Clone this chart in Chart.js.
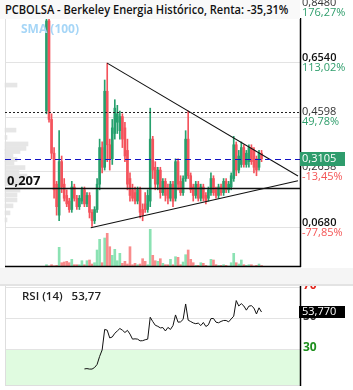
<!DOCTYPE html>
<html><head><meta charset="utf-8">
<script src="https://cdn.jsdelivr.net/npm/chart.js@4.4.1/dist/chart.umd.min.js"></script>
<style>
html,body{margin:0;padding:0;background:#fff;width:353px;height:390px;overflow:hidden;}
#wrap{position:relative;width:353px;height:390px;}
canvas{position:absolute;left:0;}
#prof{top:0;z-index:1}
#main{top:0;z-index:2}
#rsi{top:286px;z-index:2}
#band{position:absolute;left:0;top:268px;width:353px;height:16px;background:#f5f5f5;border-bottom:2px solid #e3e3e3;}
#title{position:absolute;left:0;top:0;width:300px;height:19px;background:#f9f9f9;z-index:3;}
#title span{position:absolute;left:5px;top:0;font:600 12.3px "Open Sans",sans-serif;color:#111;line-height:19px;white-space:nowrap;transform:scaleX(0.9);transform-origin:0 50%;}
#sma{position:absolute;left:21px;top:20px;z-index:3;font:700 12px "Open Sans",sans-serif;color:#a6d6f7;}
#rsilab{position:absolute;left:22px;top:288px;z-index:3;font:600 11.5px "Open Sans",sans-serif;color:#222;white-space:pre;}
</style></head>
<body><div id="wrap">
<div id="title"><span>PCBOLSA - Berkeley Energia Histórico, Renta: -35,31%</span></div>
<div id="sma">SMA (100)</div>
<canvas id="prof" width="60" height="268"></canvas>
<canvas id="main" width="353" height="268"></canvas>
<div id="band"></div>
<canvas id="rsi" width="353" height="100"></canvas>
<div id="rsilab">RSI (14)   53,77</div>
</div>
<script>
// ---------- data ----------
const opens  = [.48,.80,.45,.33,.22,.11,.30,.22,.18,.16,.13,.21,.17,.14,.16,.20,.15,.18,.12,.09,.13,.22,.35,.28,.55,.36,.31,.40,.44,.41,.46,.42,.34,.24,.20,.19,.16,.20,.13,.15,.13,.16,.38,.28,.22,.27,.19,.23,.20,.17,.22,.17,.30,.23,.19,.24,.38,.25,.21,.18,.22,.17,.21,.18,.17,.19,.24,.20,.18,.21,.19,.23,.20,.21,.24,.36,.27,.29,.35,.29,.30,.35,.34,.31,.28,.33];
const closes = [.80,.45,.33,.20,.14,.30,.21,.17,.15,.13,.21,.17,.14,.17,.20,.15,.18,.12,.09,.13,.22,.35,.28,.55,.36,.31,.42,.49,.47,.46,.38,.32,.22,.18,.17,.16,.20,.12,.11,.13,.18,.38,.27,.22,.27,.19,.23,.18,.17,.22,.16,.30,.22,.19,.24,.38,.25,.20,.18,.22,.17,.21,.17,.16,.20,.24,.19,.18,.21,.19,.23,.20,.22,.25,.36,.27,.32,.35,.29,.33,.35,.30,.28,.27,.33,.3105];
const highs  = [.83,.81,.47,.35,.23,.41,.32,.24,.20,.17,.23,.22,.18,.18,.21,.21,.19,.19,.13,.14,.24,.38,.37,.59,.65,.38,.45,.52,.50,.48,.47,.44,.38,.26,.22,.21,.21,.21,.15,.19,.20,.49,.39,.30,.28,.28,.24,.24,.22,.23,.23,.31,.31,.25,.25,.41,.48,.26,.22,.23,.23,.22,.22,.19,.21,.26,.25,.21,.22,.22,.24,.24,.23,.26,.39,.37,.34,.37,.36,.34,.36,.36,.35,.32,.34,.34];
const lows   = [.47,.44,.31,.17,.11,.09,.19,.16,.14,.12,.12,.16,.13,.13,.15,.14,.14,.10,.07,.08,.12,.20,.26,.27,.30,.27,.29,.38,.40,.38,.35,.30,.20,.16,.16,.15,.15,.10,.09,.12,.12,.14,.24,.20,.20,.17,.18,.16,.15,.16,.14,.16,.20,.18,.18,.23,.24,.19,.16,.17,.16,.16,.16,.15,.16,.18,.18,.17,.17,.18,.18,.19,.19,.20,.23,.25,.26,.28,.28,.28,.28,.29,.26,.25,.27,.30];
const volumes = [2.3,1.0,2.3,1.2,1.7,19.7,4.3,5.0,5.7,4.3,7.7,2.3,2.3,2.3,6.3,2.3,6.3,7.0,3.0,4.3,17.0,27.7,4.3,29.0,33.7,20.3,11.7,17.7,6.3,13.7,3.7,5.7,3.0,20.3,2.3,3.7,2.3,3.0,8.3,5.7,2.3,37.7,11.7,6.3,5.7,8.3,3.7,2.3,2.3,7.7,2.3,10.3,9.7,2.3,5.0,12.3,17.0,7.7,4.3,1.7,1.7,4.3,3.7,1.7,1.0,7.7,7.0,2.3,1.7,1.7,2.3,1.7,1.0,4.3,13.7,4.3,3.0,7.0,2.3,1.7,2.3,2.3,1.0,1.7,3.0,1.5];
const rsiStart = 15;
const rsiValues = [16.9,17.1,16.8,16.8,17.8,19.8,25,29.2,42.5,42,37,37.6,40,41.5,43.1,42,40.5,41.9,39.5,36.2,36.4,36.2,35.1,35.2,35.8,36.2,50.4,47.6,45.2,44.5,43.5,43.7,41.5,43.8,42.5,45,51.9,47.2,47.4,49,59,48.5,47.6,46.7,46.2,46.6,45,47,44.4,45.5,49.5,49.6,47.2,46.8,47.7,48.3,48.3,47.4,49.3,51.1,61.2,57.7,59.2,57.7,55,57.6,57.9,56.3,52.5,56.5,53.77];
const priceTicks = [0.848,0.654,0.4598,0.2658,0.068];
const priceTickLabels = ['0,8480','0,6540','0,4598','0,2658','0,0680'];
const pctLabels = ['176,27%','113,02%','49,78%','-13,45%','-77,85%'];
const lastPrice = 0.3105, lastPriceLabel = '0,3105';
const resistLevel = 0.4775;
const supportLevel = 0.207, supportLabel = '0,207';
const trendUpper = [{x:24,y:0.65},{x:99.4,y:0.249}];
const trendLower = [{x:17.5,y:0.0654},{x:99.4,y:0.2324}];
const profilePrices = [0.572,0.412,0.386,0.363,0.347,0.336,0.324,0.308,0.295,0.279,0.263,0.249,0.235,0.221,0.199,0.182,0.164,0.143,0.118,0.093];
const profileVolumes = [12,11,2,23,21,15,8,12,9,20,14,22,19,17,15,12,12,8,5,2];
const rsiTicks = [70,50,30];
const rsiTickLabels = ['70','50','30'];
const rsiLast = 53.77, rsiLastLabel = '53,770';

// ---------- layout ----------
const X_MIN = -16.4, X_MAX = 100.2;
const Y_MIN = -0.0742, Y_MAX = 0.8742;
const VOL_AXIS_MAX = 267;
const GREEN = '#26a06d', RED = '#f4535c', VGREEN = '#8be2b3', VRED = '#f98c8c';
const up = i => closes[i] >= opens[i];
const idx = opens.map((_, i) => i);

const mainDecor = {
  id: 'mainDecor',
  beforeDatasetsDraw(chart) {
    const {ctx, chartArea: a, scales: {y}} = chart;
    ctx.save();
    ctx.strokeStyle = '#e3e3e3'; ctx.lineWidth = 1;
    priceTicks.forEach(v => {
      const py = Math.round(y.getPixelForValue(v)) + 0.5;
      ctx.beginPath(); ctx.moveTo(a.left, py); ctx.lineTo(a.right, py); ctx.stroke();
    });
    ctx.strokeStyle = '#e0e0e0';
    ctx.beginPath(); ctx.moveTo(a.left + 0.5, a.top); ctx.lineTo(a.left + 0.5, a.bottom); ctx.stroke();
    ctx.restore();
  },
  afterDatasetsDraw(chart) {
    const {ctx, chartArea: a, scales: {y}} = chart;
    ctx.save();
    const hline = (v, color, dash, w) => {
      const py = Math.round(y.getPixelForValue(v)) + 0.5;
      ctx.strokeStyle = color; ctx.lineWidth = w; ctx.setLineDash(dash);
      ctx.beginPath(); ctx.moveTo(a.left, py); ctx.lineTo(a.right, py); ctx.stroke();
      ctx.setLineDash([]);
      return py;
    };
    hline(resistLevel, '#222', [2, 2], 1);
    hline(lastPrice, '#1212c4', [6, 4], 1);
    const sy = hline(supportLevel, '#111', [], 1.5);
    ctx.fillStyle = '#111'; ctx.font = '700 13px "Open Sans", sans-serif';
    ctx.textBaseline = 'bottom'; ctx.textAlign = 'left';
    ctx.fillText(supportLabel, a.left + 2, sy - 1);
    ctx.strokeStyle = '#000'; ctx.lineWidth = 1.5;
    ctx.beginPath(); ctx.moveTo(a.right + 0.5, 18); ctx.lineTo(a.right + 0.5, a.bottom); ctx.stroke();
    ctx.beginPath(); ctx.moveTo(a.left, a.bottom - 0.5); ctx.lineTo(a.right + 1, a.bottom - 0.5); ctx.stroke();
    priceTicks.forEach((v, k) => {
      const py = y.getPixelForValue(v);
      const bold = (k === 1 || k === 4);
      ctx.textBaseline = 'bottom';
      ctx.fillStyle = bold ? '#111' : '#333';
      ctx.font = (bold ? '600 ' : '400 ') + '11px "Open Sans", sans-serif';
      ctx.fillText(priceTickLabels[k], a.right + 2, py + 1);
      ctx.textBaseline = 'top';
      ctx.fillStyle = pctLabels[k].startsWith('-') ? '#f45555' : '#2f9e6c';
      ctx.font = '400 11px "Open Sans", sans-serif';
      ctx.fillText(pctLabels[k], a.right + 2, py);
    });
    const ly = y.getPixelForValue(lastPrice);
    ctx.fillStyle = '#2e9c6c';
    ctx.fillRect(a.right, Math.round(ly) - 7, 45, 14);
    ctx.fillStyle = '#fff'; ctx.textBaseline = 'middle';
    ctx.font = '400 11px "Open Sans", sans-serif';
    ctx.fillText(lastPriceLabel, a.right + 2, ly);
    ctx.restore();
  }
};

new Chart(document.getElementById('main'), {
  type: 'bar',
  data: {
    datasets: [
      { type: 'line', data: trendUpper, borderColor: '#111', borderWidth: 1.1, pointRadius: 0, order: 0, yAxisID: 'y' },
      { type: 'line', data: trendLower, borderColor: '#111', borderWidth: 1.1, pointRadius: 0, order: 0, yAxisID: 'y' },
      { data: idx.map(i => ({x: i, y: [opens[i], closes[i]]})), yAxisID: 'y',
        backgroundColor: idx.map(i => up(i) ? GREEN : RED), barThickness: 2, minBarLength: 1, grouped: false, order: 1 },
      { data: idx.map(i => ({x: i, y: [lows[i], highs[i]]})), yAxisID: 'y',
        backgroundColor: idx.map(i => up(i) ? GREEN : RED), barThickness: 1, grouped: false, order: 2 },
      { data: idx.map(i => ({x: i, y: volumes[i]})), yAxisID: 'yv',
        backgroundColor: idx.map(i => up(i) ? VGREEN : VRED), barThickness: 2, grouped: false, order: 3 }
    ]
  },
  options: {
    responsive: false, animation: false, devicePixelRatio: 1,
    layout: { padding: { left: 5, right: 53, top: 0, bottom: 1 } },
    plugins: { legend: { display: false }, tooltip: { enabled: false } },
    scales: {
      x: { type: 'linear', min: X_MIN, max: X_MAX, display: false, offset: false },
      y: { type: 'linear', min: Y_MIN, max: Y_MAX, display: false },
      yv: { type: 'linear', min: 0, max: VOL_AXIS_MAX, display: false }
    }
  },
  plugins: [mainDecor]
});

new Chart(document.getElementById('prof'), {
  type: 'bar',
  data: { datasets: [{ data: profilePrices.map((p, k) => ({x: profileVolumes[k], y: p})),
    backgroundColor: '#e6e6e6', barThickness: 4, indexAxis: 'y' }] },
  options: {
    indexAxis: 'y', responsive: false, animation: false, devicePixelRatio: 1,
    layout: { padding: { left: 0, right: 0, top: 0, bottom: 1 } },
    plugins: { legend: { display: false }, tooltip: { enabled: false } },
    scales: {
      x: { type: 'linear', min: -5, max: 55, display: false },
      y: { type: 'linear', min: Y_MIN, max: Y_MAX, display: false, offset: false }
    }
  }
});

const rsiDecor = {
  id: 'rsiDecor',
  beforeDatasetsDraw(chart) {
    const {ctx, chartArea: a, scales: {y}} = chart;
    ctx.save();
    const y30 = Math.round(y.getPixelForValue(30));
    ctx.fillStyle = '#e0fbe0';
    ctx.fillRect(a.left, y30, a.right - a.left, a.bottom - y30);
    ctx.strokeStyle = '#e3e3e3'; ctx.lineWidth = 1;
    rsiTicks.forEach(v => {
      const py = Math.round(y.getPixelForValue(v)) + 0.5;
      ctx.beginPath(); ctx.moveTo(a.left, py); ctx.lineTo(a.right, py); ctx.stroke();
    });
    ctx.strokeStyle = '#dedede';
    ctx.beginPath(); ctx.moveTo(a.left + 0.5, 0); ctx.lineTo(a.left + 0.5, a.bottom); ctx.stroke();
    ctx.beginPath(); ctx.moveTo(a.left, a.bottom + 0.5); ctx.lineTo(a.right, a.bottom + 0.5); ctx.stroke();
    ctx.restore();
  },
  afterDatasetsDraw(chart) {
    const {ctx, chartArea: a, scales: {y}} = chart;
    ctx.save();
    ctx.strokeStyle = '#000'; ctx.lineWidth = 1.5;
    ctx.beginPath(); ctx.moveTo(a.right + 0.5, 0); ctx.lineTo(a.right + 0.5, a.bottom + 1); ctx.stroke();
    ctx.textBaseline = 'middle'; ctx.textAlign = 'left';
    const cols = ['#e3241c', '#333', '#1d8f1d'];
    rsiTicks.forEach((v, k) => {
      ctx.fillStyle = cols[k];
      ctx.font = '700 12px "Open Sans", sans-serif';
      ctx.fillText(rsiTickLabels[k], a.right + 3, y.getPixelForValue(v) - 1);
    });
    const ly = y.getPixelForValue(rsiLast);
    ctx.fillStyle = '#000';
    ctx.fillRect(a.right - 1, Math.round(ly) - 6, 46, 12);
    ctx.fillStyle = '#fff'; ctx.font = '400 11px "Open Sans", sans-serif';
    ctx.fillText(rsiLastLabel, a.right + 2, ly);
    ctx.restore();
  }
};

new Chart(document.getElementById('rsi'), {
  type: 'line',
  data: { datasets: [{ data: rsiValues.map((v, k) => ({x: rsiStart + k, y: v})),
    borderColor: '#111', borderWidth: 1, pointRadius: 0, tension: 0 }] },
  options: {
    responsive: false, animation: false, devicePixelRatio: 1,
    layout: { padding: { left: 5, right: 53, top: 0, bottom: 1 } },
    plugins: { legend: { display: false }, tooltip: { enabled: false } },
    scales: {
      x: { type: 'linear', min: X_MIN, max: X_MAX, display: false },
      y: { type: 'linear', min: 6.47, max: 70.65, display: false }
    }
  },
  plugins: [rsiDecor]
});
</script>
</body></html>
